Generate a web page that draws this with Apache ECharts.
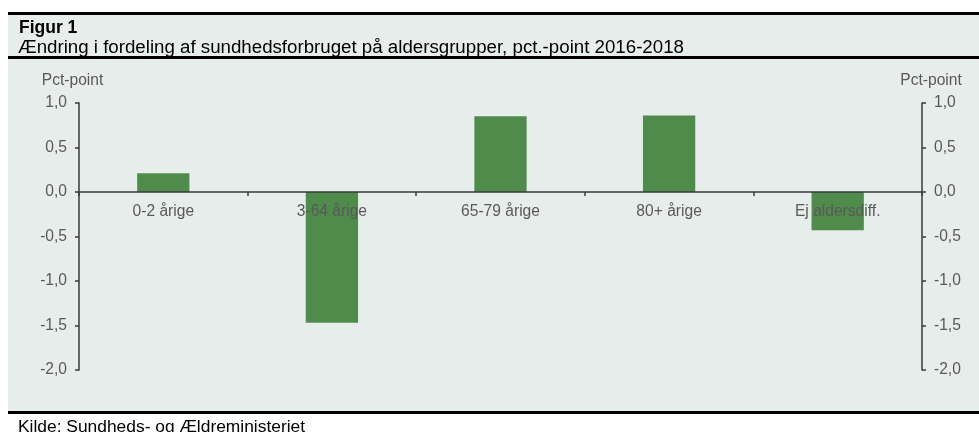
<!DOCTYPE html>
<html>
<head>
<meta charset="utf-8">
<script src="https://cdn.jsdelivr.net/npm/echarts@6/dist/echarts.min.js"></script>
<style>
  html, body { margin: 0; padding: 0; background: #ffffff; }
  #chart { width: 979px; height: 432px; }
</style>
</head>
<body>
<div id="chart"></div>
<script>
// Kategorier og værdier
const categories = ['0-2 årige', '3-64 årige', '65-79 årige', '80+ årige', 'Ej aldersdiff.'];
const changeValues = [0.21, -1.47, 0.85, 0.86, -0.43];

const titleText = 'Figur 1';
const subtitleText = 'Ændring i fordeling af sundhedsforbruget på aldersgrupper, pct.-point 2016-2018';
const sourceText = 'Kilde: Sundheds- og Ældreministeriet';
const unitText = 'Pct-point';

const bgColor = '#e7edeb';
const barColor = '#4f8c4b';
const labelColor = '#595959';
const axisColor = '#3a3a3a';
const fontName = '"Liberation Sans", Arial, sans-serif';

const yMin = -2;
const yMax = 1;
const gridTop = 103;
const gridBottom = 62;
const chartHeight = 432;

// Dansk talformat med komma
function fmt(v) {
    return v.toFixed(1).replace('.', ',');
}

// kategoriaksen skal sidde ved nul, inkl. etiketter
const plotHeight = chartHeight - gridTop - gridBottom;
const zeroOffset = -plotHeight * (0 - yMin) / (yMax - yMin);

const chart = echarts.init(document.getElementById('chart'));

function valueAxis(position, namePadding) {
    return {
        type: 'value',
        position: position,
        min: yMin,
        max: yMax,
        interval: 0.5,
        name: unitText,
        nameLocation: 'end',
        nameGap: 14,
        nameTextStyle: {
            color: labelColor,
            fontSize: 15.6,
            fontFamily: fontName,
            align: 'center',
            padding: namePadding
        },
        axisLine: { show: true, lineStyle: { color: axisColor, width: 1.5 } },
        axisTick: { show: true, length: 4, lineStyle: { color: axisColor, width: 1.5 } },
        axisLabel: {
            color: labelColor,
            fontSize: 15.6,
            fontFamily: fontName,
            margin: 12,
            formatter: fmt
        },
        splitLine: { show: false }
    };
}

const option = {
    backgroundColor: '#ffffff',
    animation: false,
    textStyle: { fontFamily: fontName },
    graphic: [
        // grå baggrund
        { type: 'rect', z: -10, shape: { x: 8, y: 15, width: 971, height: 396 }, style: { fill: bgColor } },
        // sorte streger
        { type: 'rect', shape: { x: 8, y: 12, width: 971, height: 3 }, style: { fill: '#000' } },
        { type: 'rect', shape: { x: 8, y: 56, width: 971, height: 3 }, style: { fill: '#000' } },
        { type: 'rect', shape: { x: 8, y: 411, width: 971, height: 3 }, style: { fill: '#000' } },
        {
            type: 'text', left: 19, top: 19,
            style: { text: titleText, fill: '#000', font: 'bold 17.5px ' + fontName }
        },
        {
            type: 'text', left: 18, top: 38,
            style: { text: subtitleText, fill: '#000', font: '18.7px ' + fontName }
        },
        {
            type: 'text', left: 18, top: 419,
            style: { text: sourceText, fill: '#000', font: '17.4px ' + fontName }
        }
    ],
    grid: {
        left: 79,
        right: 57,
        top: gridTop,
        bottom: gridBottom,
        containLabel: false
    },
    xAxis: {
        type: 'category',
        data: categories,
        z: 5,
        offset: zeroOffset,
        axisLine: { show: true, onZero: false, lineStyle: { color: axisColor, width: 1.5 } },
        axisTick: { show: true, length: 4, alignWithLabel: false, lineStyle: { color: axisColor, width: 1.5 } },
        axisLabel: {
            color: labelColor,
            fontSize: 15.6,
            fontFamily: fontName,
            margin: 12
        }
    },
    yAxis: [
        valueAxis('left', [0, 13, 0, 0]),
        valueAxis('right', [0, 0, 0, 18])
    ],
    series: [
        {
            type: 'bar',
            data: changeValues,
            barWidth: '31%',
            itemStyle: { color: barColor },
            z: 2
        }
    ]
};

chart.setOption(option);
</script>
</body>
</html>
